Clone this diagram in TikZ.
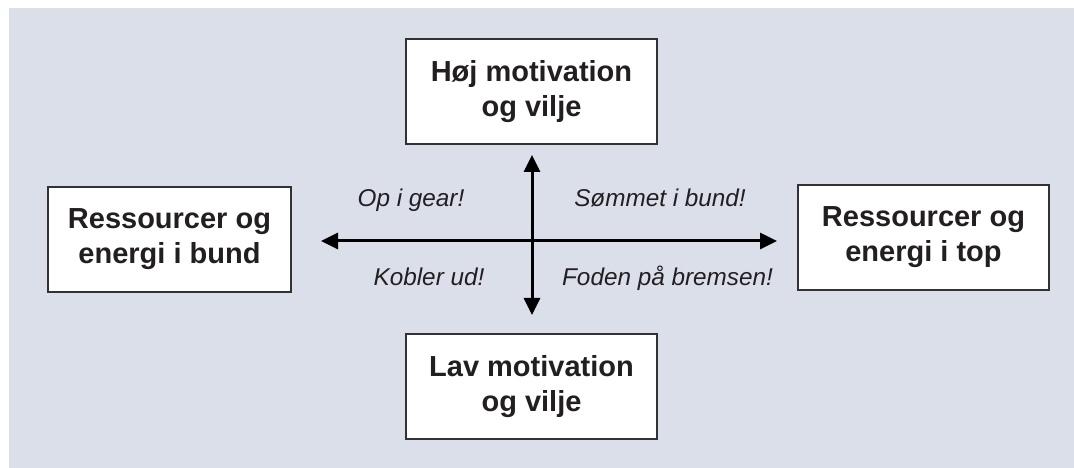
\documentclass[tikz,border=0pt]{standalone}
\usepackage{fontspec}
\setmainfont{Liberation Sans}
\usetikzlibrary{arrows.meta}
\definecolor{bgc}{RGB}{219,223,234}
\definecolor{ink}{RGB}{35,31,32}
\definecolor{edge}{RGB}{50,50,52}
\tikzset{
  x=1pt,y=1pt,
  box/.style={draw=edge, line width=1.2pt, fill=white, minimum height=105pt, inner sep=0pt, align=center, text=ink, font=\fontsize{29}{35}\selectfont\bfseries},
  lbl/.style={inner sep=0pt, anchor=base, text=ink, font=\fontsize{24.3}{28}\selectfont\itshape},
  axis/.style={line width=3pt, draw=black, {Triangle[length=17pt,width=16pt]}-{Triangle[length=17pt,width=16pt]}}
}
\begin{document}
\begin{tikzpicture}
\useasboundingbox (0,0) rectangle (1074,468);
\fill[bgc] (9,0) rectangle (1074,460);
\node[box, minimum width=251pt] (top) at (531.5,376.5) {Høj motivation\\og vilje};
\node[box, minimum width=251pt] (bottom) at (531.5,81.5) {Lav motivation\\og vilje};
\node[box, minimum width=243pt] (left) at (169.5,228.5) {Ressourcer og\\energi i bund};
\node[box, minimum width=251pt] (right) at (923.5,230.5) {Ressourcer og\\energi i top};
\coordinate (w) at (321,227);
\coordinate (e) at (777,227);
\coordinate (n) at (532,313);
\coordinate (s) at (532,153);
\draw[axis] (w) -- (e);
\draw[axis] (s) -- (n);
\node[lbl] (q1) at (411,261) {Op i gear!};
\node[lbl] (q2) at (660,261) {Sømmet i bund!};
\node[lbl] (q3) at (429,182) {Kobler ud!};
\node[lbl] (q4) at (667.5,182) {Foden på bremsen!};
\end{tikzpicture}
\end{document}
